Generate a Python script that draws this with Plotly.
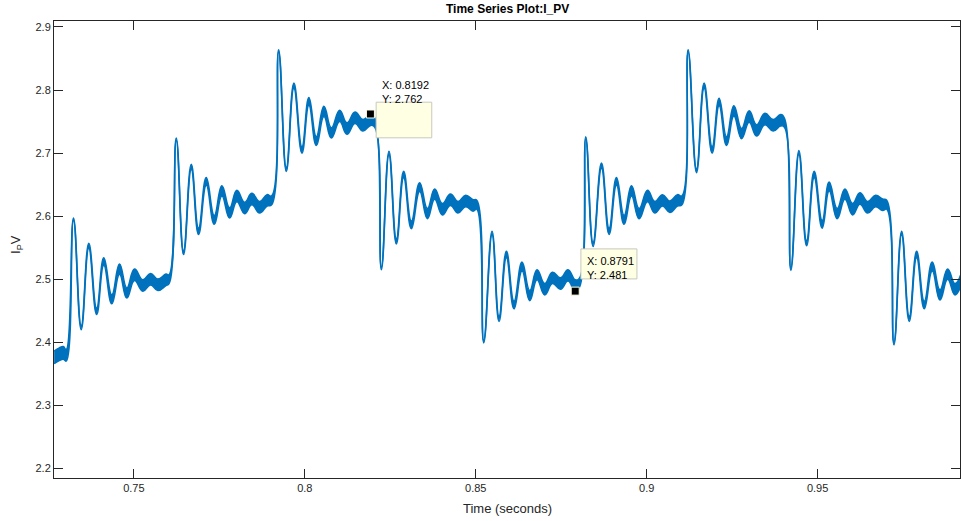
import plotly.graph_objects as go

# ---- data ----
# extrema / corner points of the signal: time (s), value at the band edge,
# which edge was read (+1 top, -1 bottom, 0 centre) and ripple half-width
t_pts = [
    0.7267, 0.7282, 0.7294, 0.7302,
    0.73235, 0.73461, 0.73683, 0.73912, 0.74122, 0.74356, 0.74582, 0.74795, 0.75020, 0.75263, 0.75488, 0.75702, 0.75940, 0.76030,
    0.76241, 0.76454, 0.76680, 0.76893, 0.77119, 0.77353, 0.77575, 0.77801, 0.78014, 0.78240, 0.78453, 0.78679, 0.78895, 0.79030,
    0.79235, 0.79460, 0.79682, 0.79917, 0.80121, 0.80338, 0.80560, 0.80777, 0.81020, 0.81233, 0.81470, 0.81700, 0.81930, 0.82050,
    0.82240, 0.82463, 0.82679, 0.82893, 0.83118, 0.83361, 0.83587, 0.83800, 0.84025, 0.84260, 0.84482, 0.84707, 0.84921, 0.85030,
    0.85234, 0.85477, 0.85682, 0.85898, 0.86121, 0.86355, 0.86580, 0.86794, 0.87019, 0.87245, 0.87480, 0.87700, 0.87910, 0.88040,
    0.88219, 0.88433, 0.88679, 0.88901, 0.89118, 0.89340, 0.89557, 0.89779, 0.90025, 0.90239, 0.90464, 0.90678, 0.90900, 0.91030,
    0.91213, 0.91459, 0.91681, 0.91915, 0.92120, 0.92337, 0.92551, 0.92776, 0.92998, 0.93215, 0.93458, 0.93700, 0.93917, 0.94030,
    0.94218, 0.94453, 0.94678, 0.94900, 0.95134, 0.95339, 0.95573, 0.95799, 0.96024, 0.96238, 0.96463, 0.96697, 0.96902, 0.97020,
    0.97233, 0.97458, 0.97680, 0.97897, 0.98120, 0.98353, 0.98579, 0.98804, 0.99018, 0.99200,
]
y_pts = [
    2.376, 2.381, 2.383, 2.379,
    2.597, 2.420, 2.557, 2.444, 2.534, 2.461, 2.524, 2.470, 2.516, 2.481, 2.509, 2.482, 2.508, 2.500,
    2.724, 2.539, 2.682, 2.571, 2.661, 2.587, 2.648, 2.597, 2.641, 2.604, 2.636, 2.605, 2.634, 2.625,
    2.864, 2.671, 2.811, 2.700, 2.788, 2.712, 2.774, 2.724, 2.768, 2.730, 2.765, 2.735, 2.762, 2.748,
    2.515, 2.703, 2.556, 2.671, 2.580, 2.653, 2.596, 2.643, 2.602, 2.635, 2.605, 2.633, 2.608, 2.618,
    2.399, 2.576, 2.433, 2.544, 2.453, 2.527, 2.466, 2.515, 2.475, 2.511, 2.484, 2.515, 2.481, 2.495,
    2.726, 2.552, 2.684, 2.571, 2.661, 2.587, 2.648, 2.596, 2.641, 2.605, 2.634, 2.606, 2.634, 2.625,
    2.864, 2.669, 2.811, 2.700, 2.787, 2.712, 2.775, 2.723, 2.767, 2.727, 2.763, 2.735, 2.761, 2.748,
    2.514, 2.704, 2.553, 2.671, 2.581, 2.654, 2.596, 2.643, 2.602, 2.637, 2.605, 2.633, 2.609, 2.618,
    2.396, 2.576, 2.433, 2.544, 2.453, 2.527, 2.467, 2.516, 2.475, 2.500,
]
edge_read = [
    0, 0, 0, 0,
    1, -1, 1, -1, 1, -1, 1, -1, 1, -1, 1, -1, 1, 0,
    1, -1, 1, -1, 1, -1, 1, -1, 1, -1, 1, -1, 1, 0,
    1, -1, 1, -1, 1, -1, 1, -1, 1, -1, 1, -1, 1, 0,
    -1, 1, -1, 1, -1, 1, -1, 1, -1, 1, -1, 1, -1, 0,
    -1, 1, -1, 1, -1, 1, -1, 1, -1, 1, -1, 1, -1, 0,
    1, -1, 1, -1, 1, -1, 1, -1, 1, -1, 1, -1, 1, 0,
    1, -1, 1, -1, 1, -1, 1, -1, 1, -1, 1, -1, 1, 0,
    -1, 1, -1, 1, -1, 1, -1, 1, -1, 1, -1, 1, -1, 0,
    -1, 1, -1, 1, -1, 1, -1, 1, -1, 0,
]
ripple_hw = [
    0.010, 0.010, 0.010, 0.009,
    0.002, 0.003, 0.004, 0.005, 0.006, 0.007, 0.008, 0.008, 0.009, 0.009, 0.009, 0.009, 0.009, 0.007,
    0.002, 0.003, 0.004, 0.005, 0.006, 0.007, 0.008, 0.008, 0.009, 0.009, 0.009, 0.009, 0.009, 0.007,
    0.002, 0.003, 0.004, 0.005, 0.006, 0.007, 0.008, 0.008, 0.009, 0.009, 0.009, 0.009, 0.009, 0.007,
    0.002, 0.003, 0.004, 0.005, 0.006, 0.007, 0.008, 0.008, 0.009, 0.009, 0.009, 0.009, 0.009, 0.007,
    0.002, 0.003, 0.004, 0.005, 0.006, 0.007, 0.008, 0.008, 0.009, 0.009, 0.009, 0.009, 0.009, 0.007,
    0.002, 0.003, 0.004, 0.005, 0.006, 0.007, 0.008, 0.008, 0.009, 0.009, 0.009, 0.009, 0.009, 0.007,
    0.002, 0.003, 0.004, 0.005, 0.006, 0.007, 0.008, 0.008, 0.009, 0.009, 0.009, 0.009, 0.009, 0.007,
    0.002, 0.003, 0.004, 0.005, 0.006, 0.007, 0.008, 0.008, 0.009, 0.009, 0.009, 0.009, 0.009, 0.007,
    0.002, 0.003, 0.004, 0.005, 0.006, 0.007, 0.008, 0.008, 0.009, 0.009,
]

tip_x = [0.8192, 0.8791]
tip_y = [2.762, 2.481]
tip_labels = ["X: 0.8192<br>Y: 2.762", "X: 0.8791<br>Y: 2.481"]

x_ticks = [0.75, 0.8, 0.85, 0.9, 0.95]
x_tick_text = ["0.75", "0.8", "0.85", "0.9", "0.95"]
y_ticks = [2.2, 2.3, 2.4, 2.5, 2.6, 2.7, 2.8, 2.9]
y_tick_text = ["2.2", "2.3", "2.4", "2.5", "2.6", "2.7", "2.8", "2.9"]

# ---- build band ----
centre = [y - e * h for y, e, h in zip(y_pts, edge_read, ripple_hw)]
upper = [c + h for c, h in zip(centre, ripple_hw)]
lower = [c - h for c, h in zip(centre, ripple_hw)]

BLUE = "#0072BD"
AX = "#262626"
FONT = "Liberation Sans, Arial, Helvetica, sans-serif"

fig = go.Figure()
fig.add_trace(go.Scatter(x=t_pts, y=upper, mode="lines",
                         line=dict(color=BLUE, width=1.6, shape="spline", smoothing=1.3),
                         hoverinfo="skip", showlegend=False))
fig.add_trace(go.Scatter(x=t_pts, y=lower, mode="lines", fill="tonexty", fillcolor=BLUE,
                         line=dict(color=BLUE, width=1.6, shape="spline", smoothing=1.3),
                         hoverinfo="skip", showlegend=False))

# data tip boxes (offsets in data units relative to the tip point)
box_dx = [(0.00167, 0.01794), (0.00167, 0.01806)]
box_dy = [(-0.0378, 0.0187), (0.0194, 0.067)]
text_dx = [0.0028, 0.0029]
text_dy = [0.0354, 0.0373]

shapes = []
annotations = []
for i in range(2):
    shapes.append(dict(type="rect", xref="x", yref="y",
                       x0=tip_x[i] + box_dx[i][0], x1=tip_x[i] + box_dx[i][1],
                       y0=tip_y[i] + box_dy[i][0], y1=tip_y[i] + box_dy[i][1],
                       fillcolor="rgb(255,255,228)", line=dict(color="rgb(200,200,190)", width=1),
                       layer="above"))
    annotations.append(dict(x=tip_x[i] + text_dx[i], y=tip_y[i] + text_dy[i], xref="x", yref="y",
                            text=tip_labels[i], showarrow=False, xanchor="left", yanchor="middle",
                            align="left", font=dict(family=FONT, size=11, color="black")))

fig.add_trace(go.Scatter(x=tip_x, y=tip_y, mode="markers",
                         marker=dict(symbol="square", size=8, color="black",
                                     line=dict(color="rgb(255,255,228)", width=1)),
                         hoverinfo="skip", showlegend=False))

annotations += [
    dict(text="<b>Time Series Plot:I_PV</b>", xref="paper", yref="paper", x=0.5, y=1.0252,
         showarrow=False, xanchor="center", yanchor="middle",
         font=dict(family=FONT, size=12, color="black")),
    dict(text="Time (seconds)", xref="paper", yref="paper", x=0.5, y=-0.0657,
         showarrow=False, xanchor="center", yanchor="middle",
         font=dict(family=FONT, size=13, color=AX)),
    dict(text="I<sub>P</sub>V", xref="paper", yref="paper", x=-0.0408, y=0.51,
         showarrow=False, xanchor="center", yanchor="middle", textangle=-90,
         font=dict(family=FONT, size=13, color=AX)),
]

fig.update_layout(
    width=961, height=521,
    margin=dict(l=54, r=1, t=21, b=43),
    paper_bgcolor="white", plot_bgcolor="white",
    shapes=shapes, annotations=annotations,
    hovermode=False,
    xaxis=dict(range=[0.72665, 0.99165], tickvals=x_ticks, ticktext=x_tick_text,
               showgrid=False, zeroline=False, showline=True, linecolor=AX, linewidth=1,
               mirror="ticks", ticks="inside", ticklen=9, tickcolor=AX, tickwidth=1,
               tickfont=dict(family=FONT, size=11, color=AX)),
    yaxis=dict(range=[2.1846, 2.9095], tickvals=y_ticks, ticktext=y_tick_text,
               showgrid=False, zeroline=False, showline=True, linecolor=AX, linewidth=1,
               mirror="ticks", ticks="inside", ticklen=9, tickcolor=AX, tickwidth=1,
               tickfont=dict(family=FONT, size=11, color=AX)),
)

fig.write_html("out.html", config={"displayModeBar": False},
               post_script="document.body.style.margin='0';document.body.style.overflow='hidden';")
